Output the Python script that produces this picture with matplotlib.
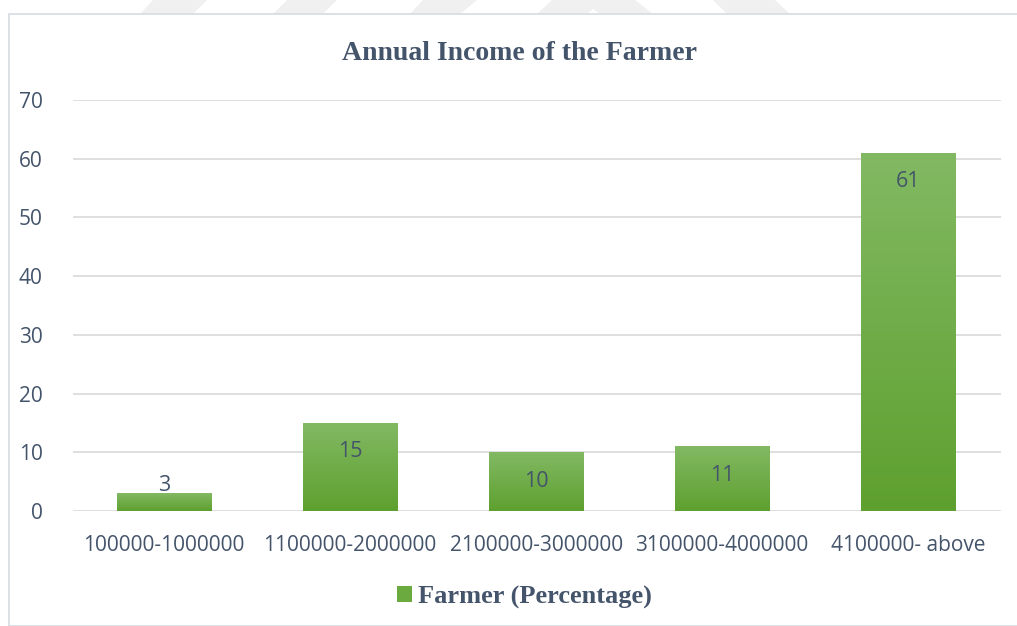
import numpy as np
import matplotlib.pyplot as plt
from matplotlib.patches import Rectangle, Polygon
from matplotlib.colors import LinearSegmentedColormap

# income bands and share of farmers in each
categories = ["100000-1000000", "1100000-2000000", "2100000-3000000",
              "3100000-4000000", "4100000- above"]
farmer_pct = [3, 15, 10, 11, 61]
y_ticks = [0, 10, 20, 30, 40, 50, 60, 70]

TEXT = "#44546A"
GRID = "#D9D9D9"
GREEN_TOP = "#82B963"
GREEN_BOT = "#5EA02F"

fig = plt.figure(figsize=(10.17, 6.26), dpi=100)
fig.patch.set_facecolor("white")

# faint page watermark peeking above the chart box
W, H = 1017, 626
def px_poly(pts, **kw):
    p = Polygon([(x / W, 1 - y / H) for x, y in pts], closed=True,
                transform=fig.transFigure, **kw)
    fig.patches.append(p)

for pts in [[(140, 14), (153, 0), (207, 0), (193, 14)],
            [(273, 14), (287, 0), (337, 0), (323, 14)],
            [(410, 14), (423, 0), (477, 0), (460, 14)],
            [(537, 14), (552, 0), (635, 0), (653, 14), (600, 14), (593, 9), (587, 14)],
            [(727, 14), (713, 0), (775, 0), (790, 14)]]:
    px_poly(pts, facecolor="#F0F0F0", edgecolor="none", zorder=0)

# chart area border
fig.patches.append(Rectangle((9 / W, 0), 1.2, 1 - 14 / H, transform=fig.transFigure,
                             facecolor="white", edgecolor="#D6DCE4", lw=1.2, zorder=0.5))

ax = fig.add_axes([73 / W, 115 / H, (1001 - 73) / W, (511 - 100) / H])
ax.set_facecolor("none")
ax.set_zorder(2)

x = np.arange(len(categories))
bars = ax.bar(x, farmer_pct, width=0.51, color=GREEN_BOT, zorder=2,
              label="Farmer (Percentage)")

# vertical gradient fill on each bar
cmap = LinearSegmentedColormap.from_list("g", [GREEN_BOT, GREEN_TOP])
grad = np.linspace(0, 1, 256).reshape(-1, 1)
for b in bars:
    x0, w, h = b.get_x(), b.get_width(), b.get_height()
    im = ax.imshow(grad, cmap=cmap, aspect="auto", origin="lower",
                   extent=[x0, x0 + w, 0, h], zorder=2.5)
    im.set_clip_path(b)

for xi, v in zip(x, farmer_pct):
    off = -29 if v > 8 else 8
    ax.annotate(str(v), (xi, v), xytext=(0, off * 0.72), textcoords="offset points",
                ha="center", va="center", fontsize=15.5, color=TEXT,
                family="Open Sans", zorder=4)

ax.set_xlim(-0.49, 4.5)
ax.set_ylim(0, 70)
ax.set_yticks(y_ticks)
ax.set_xticks(x)
ax.set_xticklabels(categories)
ax.tick_params(axis="both", length=0, labelsize=15, labelcolor=TEXT)
ax.tick_params(axis="y", pad=22)
ax.tick_params(axis="x", pad=17)
for lab in ax.get_xticklabels() + ax.get_yticklabels():
    lab.set_family("Open Sans")
ax.grid(axis="y", color=GRID, lw=1.2, zorder=1)
ax.set_axisbelow(True)
for s in ax.spines.values():
    s.set_visible(False)

fig.text(520 / W, 1 - 54 / H, "Annual Income of the Farmer", ha="center", va="center",
         fontsize=20, fontweight="bold", family="Liberation Serif", color=TEXT)

handle = Rectangle((0, 0), 1, 1, facecolor="#6AAA3E")
leg = fig.legend([handle], ["Farmer (Percentage)"], loc="center",
                 bbox_to_anchor=(524 / W, 1 - 597 / H), frameon=False,
                 handlelength=0.6, handleheight=0.6, handletextpad=0.2,
                 prop={"family": "Liberation Serif", "weight": "bold", "size": 19})
for t in leg.get_texts():
    t.set_color(TEXT)

fig.savefig("out.png", dpi=100)
